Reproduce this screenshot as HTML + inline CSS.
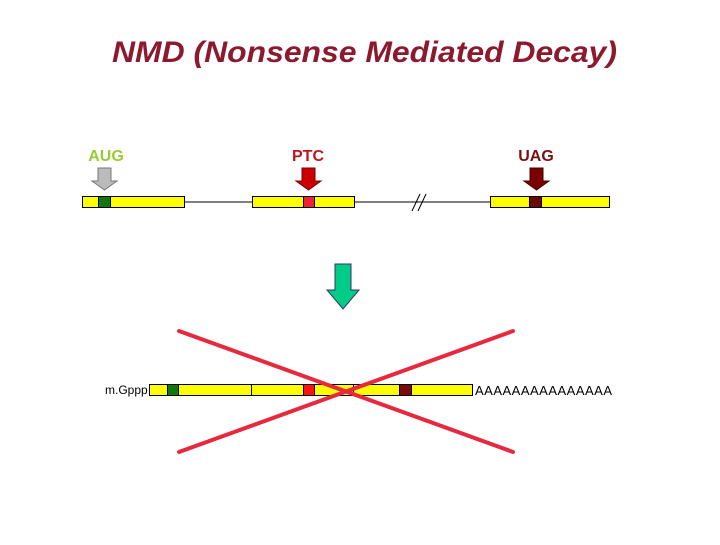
<!DOCTYPE html>
<html><head><style>body{margin:0;background:#fff}</style></head><body>
<svg width="720" height="540" xmlns="http://www.w3.org/2000/svg" font-family="Liberation Sans, Arial, sans-serif">
<text x="112" y="62" font-size="30" font-style="italic" font-weight="bold" fill="#8b1a2e" textLength="505" lengthAdjust="spacingAndGlyphs">NMD (Nonsense Mediated Decay)</text>
<text x="106" y="161" text-anchor="middle" font-size="16" font-weight="bold" fill="#99cc33">AUG</text>
<text x="308" y="161" text-anchor="middle" font-size="16" font-weight="bold" fill="#c0141e">PTC</text>
<text x="536" y="161" text-anchor="middle" font-size="16" font-weight="bold" fill="#7a0f14">UAG</text>
<g stroke="#000" stroke-width="1">
<polygon points="98,168 111,168 111,181 117,181 104.5,190 92,181 98,181" fill="#bbbbbb" stroke="#777"/>
<polygon points="302,168 315,168 315,181 321,181 308.5,190 296,181 302,181" fill="#cc0000" stroke="#700"/>
<polygon points="530,168 543,168 543,181 549,181 536.5,190 524,181 530,181" fill="#7a0000" stroke="#400"/>
<line x1="184" y1="202" x2="252" y2="202"/>
<line x1="354" y1="202" x2="490" y2="202"/>
<line x1="412" y1="211" x2="420" y2="194"/><line x1="418" y1="211" x2="426" y2="194"/>
<rect x="82.5" y="196.5" width="102" height="11" fill="#ffff00"/>
<rect x="98.5" y="196.5" width="12" height="11" fill="#117711"/>
<rect x="252.5" y="196.5" width="102" height="11" fill="#ffff00"/>
<rect x="303.5" y="196.5" width="11" height="11" fill="#ee2233"/>
<rect x="490.5" y="196.5" width="119" height="11" fill="#ffff00"/>
<rect x="529.5" y="196.5" width="12" height="11" fill="#6b0a0a"/>
<polygon points="335,264 351,264 351,290 359,290 343,309 327,290 335,290" fill="#00cc88" stroke="#336"/>
<rect x="149.5" y="384.5" width="323" height="11" fill="#ffff00"/>
<rect x="167.5" y="384.5" width="11" height="11" fill="#117711"/>
<line x1="251.5" y1="384.5" x2="251.5" y2="395.5"/>
<line x1="353.5" y1="384.5" x2="353.5" y2="395.5"/>
<rect x="303.5" y="384.5" width="11" height="11" fill="#ff1111"/>
<rect x="399.5" y="384.5" width="12" height="11" fill="#7a0a0a"/>
</g>
<text x="105" y="394" font-size="12" fill="#000">m.Gppp</text>
<text x="475" y="395" font-size="13" fill="#000" textLength="137">AAAAAAAAAAAAAAA</text>
<g stroke="#e8283c" stroke-width="4" stroke-linecap="round">
<line x1="179" y1="331" x2="513" y2="452"/>
<line x1="179" y1="452" x2="513" y2="331"/>
</g>
</svg>
</body></html>
